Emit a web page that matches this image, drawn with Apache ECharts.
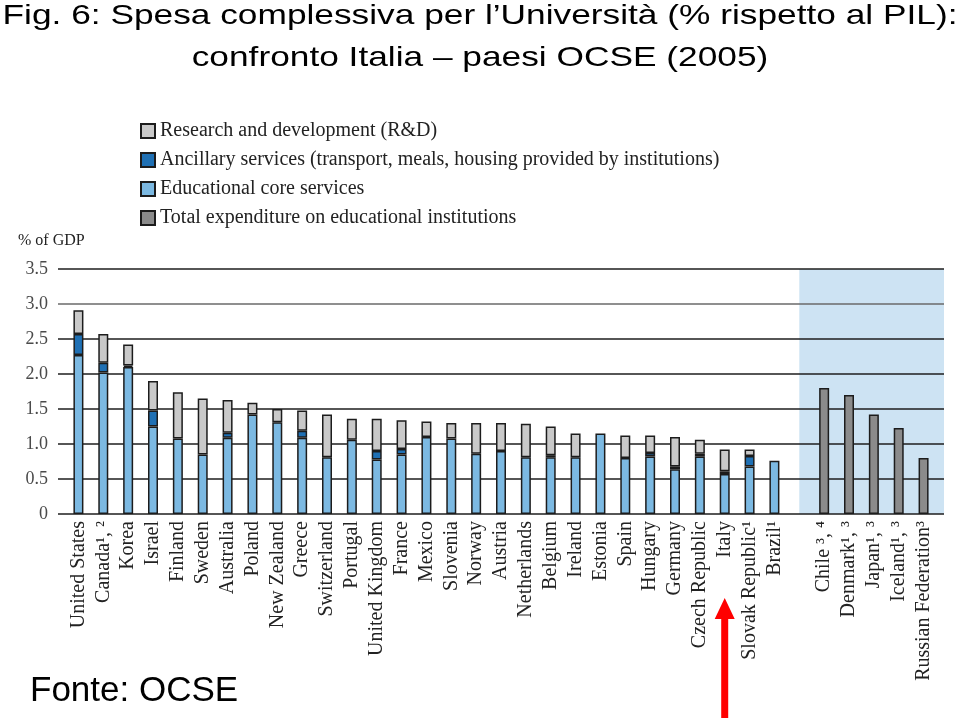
<!DOCTYPE html>
<html><head><meta charset="utf-8">
<script src="https://cdn.jsdelivr.net/npm/echarts@6/dist/echarts.min.js"></script>
<style>html,body{margin:0;padding:0;background:#fff}#c{width:960px;height:718px}</style>
</head><body><div id="c"></div>
<script>
const categories = ['United States','Canada\u00b9, \u00b2','Korea','Israel','Finland','Sweden','Australia','Poland','New Zealand','Greece','Switzerland','Portugal','United Kingdom','France','Mexico','Slovenia','Norway','Austria','Netherlands','Belgium','Ireland','Estonia','Spain','Hungary','Germany','Czech Republic','Italy','Slovak Republic\u00b9','Brazil\u00b9','','Chile \u00b3, \u2074','Denmark\u00b9, \u00b3','Japan\u00b9, \u00b3','Iceland\u00b9, \u00b3','Russian Federation\u00b3'];
const coreServices = [2.27,2.02,2.10,1.25,1.08,0.85,1.09,1.42,1.31,1.09,0.81,1.06,0.78,0.85,1.10,1.08,0.86,0.90,0.81,0.81,0.81,1.15,0.80,0.82,0.64,0.82,0.57,0.68,0.76,null,null,null,null,null,null];
const ancillaryServices = [0.30,0.14,0.02,0.23,null,null,0.07,null,null,0.10,null,null,0.12,0.08,null,null,null,null,null,0.03,null,null,null,0.05,0.04,0.04,0.04,0.15,null,null,null,null,null,null,null];
const researchDev = [0.34,0.41,0.30,0.42,0.66,0.80,0.47,0.17,0.19,0.29,0.61,0.30,0.46,0.41,0.22,0.22,0.44,0.40,0.48,0.41,0.34,null,0.32,0.25,0.42,0.20,0.31,0.09,null,null,null,null,null,null,null];
const totalExpenditure = [null,null,null,null,null,null,null,null,null,null,null,null,null,null,null,null,null,null,null,null,null,null,null,null,null,null,null,null,null,null,1.80,1.70,1.42,1.23,0.80];
const yTickLabels = ['0','0.5','1.0','1.5','2.0','2.5','3.0','3.5'];
const seriesNames = ['Research and development (R&D)','Ancillary services (transport, meals, housing provided by institutions)','Educational core services','Total expenditure on educational institutions'];
const titleLines = ['Fig. 6: Spesa complessiva per l\u2019Universit\u00e0 (% rispetto al PIL):','confronto Italia \u2013 paesi OCSE (2005)'];
const highlighted = 'Italy';

const SERIF = 'Liberation Serif';
const chart = echarts.init(document.getElementById('c'), null, {renderer:'canvas'});
const border = {borderColor:'#1c1c1c', borderWidth:1.5};
const lineK = '#1e1e1e';
const option = {
  animation:false,
  backgroundColor:'#fff',
  title:[
    {text:'% of GDP', left:18, top:233, padding:0, textStyle:{fontFamily:SERIF, fontWeight:'normal', fontSize:16, color:'#222'}},
    {text:'Fonte: OCSE', left:30, top:674, padding:0, textStyle:{fontFamily:'Liberation Sans', fontWeight:'normal', fontSize:35, color:'#000'}}
  ],
  legend:{orient:'vertical', left:140, top:121, padding:0, itemGap:9, itemWidth:14, itemHeight:14, icon:'rect',
    data:seriesNames, selectedMode:false,
    textStyle:{fontFamily:SERIF, fontSize:20, lineHeight:20, color:'#222'}},
  grid:[
    {left:66, right:24, top:269, bottom:204},
    {left:58, right:16, top:269, bottom:204}
  ],
  xAxis:[
    {type:'category', gridIndex:0, data:categories, axisLine:{show:false}, axisTick:{show:false},
     axisLabel:{rotate:90, interval:0, margin:7, fontFamily:SERIF, fontSize:20, color:'#222'}},
    {type:'value', gridIndex:1, show:false, min:0, max:1}
  ],
  yAxis:[
    {type:'value', gridIndex:0, min:0, max:3.5, interval:0.5, show:false},
    {type:'value', gridIndex:1, min:0, max:3.5, interval:0.5,
     axisLine:{show:false}, axisTick:{show:false},
     splitLine:{lineStyle:{color:[lineK,lineK,lineK,lineK,lineK,lineK,'#6a6a6a',lineK], width:1.6}},
     axisLabel:{margin:10, fontFamily:SERIF, fontSize:18, color:'#4a4a4a',
       formatter:v=>yTickLabels[Math.round(v/0.5)]}}
  ],
  series:[
    {name:seriesNames[2], type:'bar', stack:'s', xAxisIndex:0, yAxisIndex:0, barWidth:10, z:3, data:coreServices, itemStyle:Object.assign({color:'#7cb9e2'},border)},
    {name:seriesNames[1], type:'bar', stack:'s', xAxisIndex:0, yAxisIndex:0, barWidth:10, z:3, data:ancillaryServices, itemStyle:Object.assign({color:'#1f70b4'},border)},
    {name:seriesNames[0], type:'bar', stack:'s', xAxisIndex:0, yAxisIndex:0, barWidth:10, z:3, data:researchDev, itemStyle:Object.assign({color:'#c9c9c9'},border)},
    {name:seriesNames[3], type:'bar', stack:'s', xAxisIndex:0, yAxisIndex:0, barWidth:10, z:3, data:totalExpenditure, itemStyle:Object.assign({color:'#8b8b8b'},border)}
  ]
};
chart.setOption(option);

const gapIdx = categories.indexOf('');
const xShade = chart.convertToPixel({xAxisIndex:0}, categories[gapIdx]);
const yTop = chart.convertToPixel({yAxisIndex:1}, 3.5);
const yBot = chart.convertToPixel({yAxisIndex:1}, 0);
const xRight = chart.convertToPixel({xAxisIndex:1}, 1);
const xIt = chart.convertToPixel({xAxisIndex:0}, highlighted);
const titleFont = 'normal 28px "Liberation Sans", Arial, sans-serif';
chart.setOption({
  graphic:[
    {type:'rect', z:-10, silent:true, shape:{x:xShade, y:yTop, width:xRight-xShade, height:yBot-yTop}, style:{fill:'#cde3f3'}},
    {type:'polygon', z:10, silent:true, shape:{points:[[xIt,598],[xIt+10,619],[xIt+3.5,619],[xIt+3.5,718],[xIt-3.5,718],[xIt-3.5,619],[xIt-10,619]]}, style:{fill:'#ff0000'}},
    {type:'text', x:480, y:2, scaleX:1.26, silent:true, style:{text:titleLines[0], font:titleFont, fill:'#000', align:'center', verticalAlign:'top'}},
    {type:'text', x:480, y:44, scaleX:1.26, silent:true, style:{text:titleLines[1], font:titleFont, fill:'#000', align:'center', verticalAlign:'top'}}
  ]
});
</script></body></html>
